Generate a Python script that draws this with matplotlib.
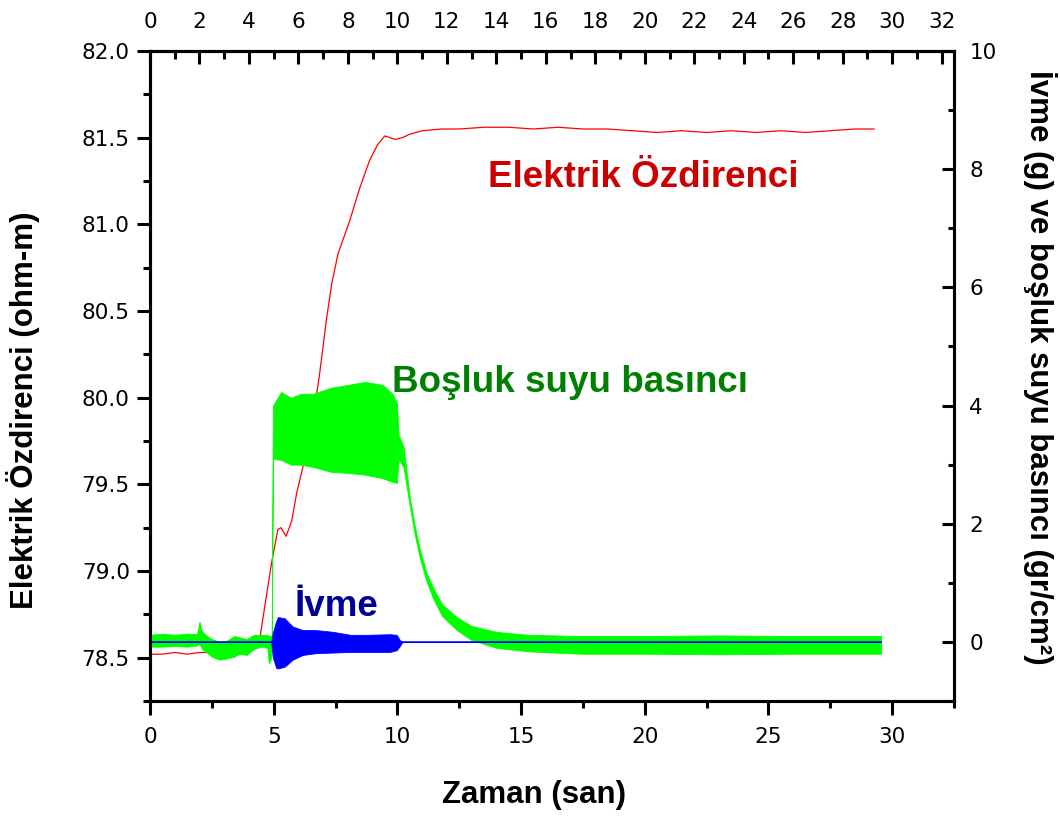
import numpy as np
import matplotlib
matplotlib.use('Agg')
from matplotlib import pyplot as plt
from matplotlib.ticker import MultipleLocator

# Elektrik özdirenci (sol eksen, ohm-m)
t_ozd = [0, 0.5, 1.0, 1.5, 2.0, 2.4, 2.6, 3.0, 3.5, 4.0, 4.35, 4.45, 4.72, 4.93, 5.17, 5.29,
         5.5, 5.73, 5.93, 6.18, 6.53, 6.84, 7.14, 7.35, 7.6, 8.07, 8.48, 8.88, 9.2, 9.49,
         9.7, 9.9, 10.2, 10.5, 11.0, 11.8, 12.5, 13.5, 14.5, 15.5, 16.5, 17.5, 18.5, 19.5,
         20.5, 21.5, 22.5, 23.5, 24.5, 25.5, 26.5, 27.5, 28.5, 29.27]
ozd = [78.52, 78.52, 78.53, 78.52, 78.53, 78.53, 78.54, 78.55, 78.55, 78.56, 78.57, 78.62, 78.87,
       79.06, 79.24, 79.25, 79.2, 79.29, 79.45, 79.6, 79.83, 80.12, 80.46, 80.66, 80.83, 81.02,
       81.21, 81.37, 81.46, 81.51, 81.5, 81.49, 81.5, 81.52, 81.54, 81.55, 81.55, 81.56, 81.56,
       81.55, 81.56, 81.55, 81.55, 81.54, 81.53, 81.54, 81.53, 81.54, 81.53, 81.54, 81.53,
       81.54, 81.55, 81.55]

# Boşluk suyu basıncı (sağ eksen) - salınım bandının üst/alt zarfı
t_bsb = [0, 0.5, 1.0, 1.5, 1.9, 2.0, 2.1, 2.3, 2.5, 2.8, 3.1, 3.4, 3.6, 3.9, 4.2, 4.5, 4.75,
         4.8, 4.88, 4.92, 4.97, 5.3, 5.7, 6.1, 6.6, 7.3, 8.0, 8.7, 9.4, 9.8, 9.98, 10.05, 10.25,
         10.5, 10.7, 10.9, 11.18, 11.44, 11.8, 12.4, 13.0, 14.0, 15.3, 17.4, 20, 23, 26, 29.55]
bsb_ust = [0.12, 0.14, 0.12, 0.14, 0.13, 0.34, 0.18, 0.1, 0.05, 0.0, 0.02, 0.1, 0.08, 0.05,
           0.12, 0.12, 0.12, 0.1, 0.1, 0.1, 4.0, 4.23, 4.13, 4.2, 4.2, 4.3, 4.35, 4.4, 4.35,
           4.2, 4.04, 3.5, 3.3, 2.45, 1.97, 1.58, 1.17, 0.92, 0.64, 0.42, 0.27, 0.17, 0.12,
           0.1, 0.1, 0.11, 0.1, 0.1]
bsb_alt = [-0.08, -0.08, -0.07, -0.08, -0.06, -0.03, -0.12, -0.18, -0.25, -0.3, -0.28, -0.25,
           -0.2, -0.22, -0.12, -0.08, -0.1, -0.36, -0.3, -0.1, 3.1, 3.08, 3.0, 3.0, 2.96, 2.88,
           2.86, 2.83, 2.77, 2.71, 2.69, 3.1, 2.95, 2.3, 1.82, 1.43, 1.02, 0.74, 0.44, 0.2,
           0.03, -0.1, -0.16, -0.2, -0.2, -0.21, -0.2, -0.2]

# İvme (sağ eksen, g) - salınım zarfı
t_ivme = [0, 4.9, 4.96, 5.1, 5.17, 5.44, 5.77, 6.18, 6.72, 7.4, 8.1, 8.8, 9.7, 9.97, 10.1,
          10.2, 29.55]
ivme_ust = [0, 0, 0.15, 0.35, 0.42, 0.4, 0.26, 0.2, 0.2, 0.17, 0.12, 0.12, 0.13, 0.12, 0.03,
            0.0, 0]
ivme_alt = [0, 0, -0.25, -0.44, -0.45, -0.42, -0.3, -0.22, -0.19, -0.18, -0.17, -0.17, -0.17,
            -0.14, -0.07, 0.0, 0]

fig = plt.figure(figsize=(10.6, 8.19), dpi=100)
ax = fig.add_axes([150/1060, 1-701/819, 804/1060, 650/819])
ax2 = ax.twinx()

ax.plot(t_ozd, ozd, color='#ff0000', lw=0.9)

ax2.fill_between(t_bsb, bsb_alt, bsb_ust, color='#00ff00', lw=0.6, edgecolor='#00ff00')
ax2.fill_between(t_ivme, ivme_alt, ivme_ust, color='#0000ff', lw=0.6, edgecolor='#0000ff')
ax2.plot([t_ivme[0], t_ivme[-1]], [0, 0], color='#0000ff', lw=1.1)

ax.set_xlim(0, 32.5)
ax.set_ylim(78.25, 82.0)
ax2.set_ylim(-1, 10)

tick_font = dict(family='DejaVu Sans', size=15.5)
ax.xaxis.set_major_locator(MultipleLocator(5))
ax.xaxis.set_minor_locator(MultipleLocator(2.5))
ax.yaxis.set_major_locator(MultipleLocator(0.5))
ax.yaxis.set_minor_locator(MultipleLocator(0.25))
ax.yaxis.set_major_formatter(lambda v, p: '{0:.1f}'.format(v))
ax2.yaxis.set_major_locator(MultipleLocator(2))
ax2.yaxis.set_minor_locator(MultipleLocator(1))

ax.tick_params(axis='x', which='major', direction='out', length=10, width=2.2, pad=9)
ax.tick_params(axis='x', which='minor', direction='out', length=5, width=2.2)
ax.tick_params(axis='y', which='major', direction='out', length=9.5, width=2.2, pad=5)
ax.tick_params(axis='y', which='minor', direction='out', length=5, width=2.2)
ax2.tick_params(axis='y', which='major', direction='in', length=9, width=2.2, pad=11)
ax2.tick_params(axis='y', which='minor', direction='in', length=4.5, width=2.2)

top = ax.secondary_xaxis('top')
top.xaxis.set_major_locator(MultipleLocator(2))
top.xaxis.set_minor_locator(MultipleLocator(1))
top.tick_params(axis='x', which='major', direction='in', length=9.5, width=2.2, pad=14)
top.tick_params(axis='x', which='minor', direction='in', length=5.5, width=2.2)

for a in (ax, ax2, top):
    for lab in a.get_xticklabels() + a.get_yticklabels():
        lab.set_fontfamily(tick_font['family'])
        lab.set_fontsize(tick_font['size'])
    for s in a.spines.values():
        s.set_linewidth(2.2)

lbl = dict(family='Liberation Sans', weight='bold', size=22.5)
fig.text(534/1060, 1-795/819, 'Zaman (san)', ha='center', va='center', **lbl)
fig.text(23/1060, 1-410/819, 'Elektrik Özdirenci (ohm-m)', ha='center', va='center',
         rotation=90, **lbl)
fig.text(1040/1060, 1-367/819, 'İvme (g) ve boşluk suyu basıncı (gr/cm²)', ha='center',
         va='center', rotation=270, **lbl)

ann = dict(family='Liberation Sans', weight='bold', size=26.5)
ax.text(13.65, 81.218, 'Elektrik Özdirenci', color='#cc0000', ha='left', va='baseline', **ann)
ax2.text(9.8, 4.23, 'Boşluk suyu basıncı', color='#008000', ha='left', va='baseline', **ann)
ax2.text(5.85, 0.44, 'İvme', color='#000099', ha='left', va='baseline', **ann)

fig.savefig('out.png', dpi=100)
